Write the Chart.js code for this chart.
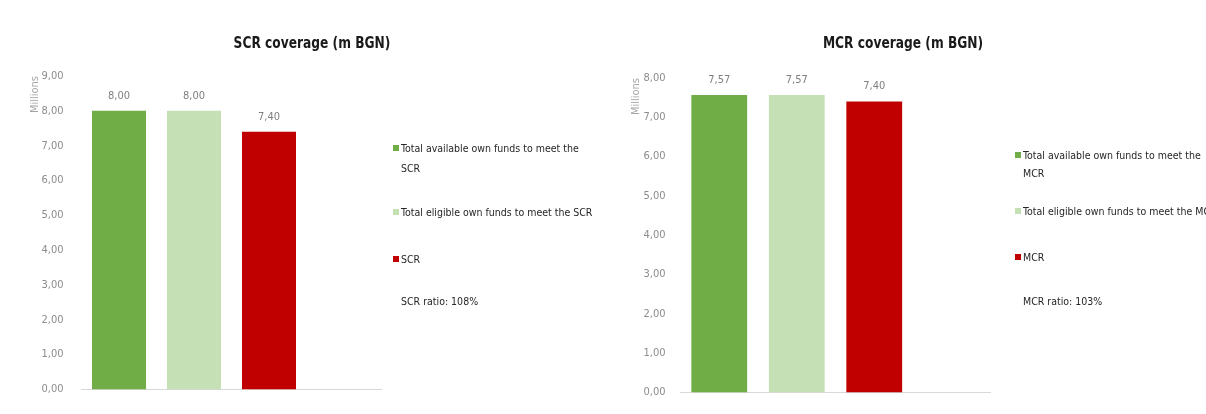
<!DOCTYPE html>
<html>
<head>
<meta charset="utf-8">
<script src="https://cdn.jsdelivr.net/npm/chart.js@4.4.1/dist/chart.umd.min.js"></script>
<style>
  html, body { margin: 0; padding: 0; background: #fff; }
  body {
    width: 1206px; height: 414px; position: relative; overflow: hidden;
    font-family: "Liberation Sans Narrow", "Arial Narrow", "DejaVu Sans Condensed", sans-serif;
  }
  .panel { position: absolute; top: 0; width: 603px; height: 414px; }
  .panel canvas { position: absolute; left: 0; top: 0; }
  .title {
    position: absolute; top: 33px; width: 300px; text-align: center;
    font-size: 16px; font-weight: bold; color: #1a1a1a; line-height: 20px;
    transform: scaleX(0.85); white-space: nowrap;
  }
  .legend { position: absolute; font-size: 10.5px; color: #262626; }
  .legend .item { display: flex; align-items: flex-start; }
  .legend .swatch { width: 6px; height: 6px; flex: none; margin-right: 2px; }
  .legend .note { padding-left: 8px; white-space: nowrap; }
</style>
</head>
<body>
<div class="panel" id="scrPanel" style="left:0">
  <canvas id="scrChart" width="603" height="414"></canvas>
  <div class="title" id="scrTitle" style="left:162px"></div>
  <div class="legend" id="scrLegend" style="left:393px; top:138px"></div>
</div>
<div class="panel" id="mcrPanel" style="left:603px">
  <canvas id="mcrChart" width="603" height="414"></canvas>
  <div class="title" id="mcrTitle" style="left:150px"></div>
  <div class="legend" id="mcrLegend" style="left:412px; top:146px"></div>
</div>
<script>
// SCR chart data
const scrTitle = "SCR coverage (m BGN)";
const scrCategories = [
  "Total available own funds to meet the SCR",
  "Total eligible own funds to meet the SCR",
  "SCR",
];
const scrValues = [8.0, 8.0, 7.4];
const scrAxisMax = 9;
const scrRatioNote = "SCR ratio: 108%";

// MCR chart data
const mcrTitle = "MCR coverage (m BGN)";
const mcrCategories = [
  "Total available own funds to meet the MCR",
  "Total eligible own funds to meet the MCR",
  "MCR",
];
const mcrValues = [7.57, 7.57, 7.4];
const mcrAxisMax = 8;
const mcrRatioNote = "MCR ratio: 103%";

const barColors = ["#70AD47", "#C5E0B4", "#C00000"];
const fontFamily = '"Liberation Sans Narrow", "Arial Narrow", "DejaVu Sans Condensed", sans-serif';

const fmt = (v) => Number(v).toFixed(2).replace(".", ",");

// draws the value above each bar
const valueLabels = {
  id: "valueLabels",
  afterDatasetsDraw(chart) {
    const ctx = chart.ctx;
    const values = chart.data.datasets[0].data;
    ctx.save();
    ctx.font = "11px " + fontFamily;
    ctx.fillStyle = "#7f7f7f";
    ctx.textAlign = "center";
    ctx.textBaseline = "middle";
    chart.getDatasetMeta(0).data.forEach((bar, i) => {
      if (values[i] == null) return;
      ctx.fillText(fmt(values[i]), bar.x, bar.y - 15);
    });
    ctx.restore();
  },
};

function makeCoverageChart(canvas, categories, values, axisMax, box) {
  return new Chart(canvas, {
    type: "bar",
    data: {
      // trailing empty slot keeps the blank space Excel leaves on the right
      labels: [...categories, ""],
      datasets: [
        {
          data: values,
          backgroundColor: barColors,
          barPercentage: 0.72,
          categoryPercentage: 1,
        },
      ],
    },
    options: {
      responsive: false,
      animation: false,
      layout: { padding: { left: box.left, right: box.right, top: box.top, bottom: 11 } },
      plugins: {
        legend: { display: false },
        tooltip: { enabled: false },
      },
      scales: {
        x: {
          grid: { display: false },
          border: { display: true, color: "#d9d9d9" },
          ticks: { display: false },
          afterFit(scale) { scale.height = 0; },
        },
        y: {
          min: 0,
          max: axisMax,
          grid: { display: false, drawTicks: false },
          border: { display: false },
          ticks: {
            stepSize: 1,
            padding: box.tickPad,
            color: "#8c8c8c",
            font: { size: 11, family: fontFamily },
            callback: (v) => fmt(v),
          },
          title: {
            display: true,
            text: "Millions",
            align: "end",
            color: "#a6a6a6",
            font: { size: 11, family: fontFamily },
            padding: { top: box.titlePad, bottom: 0 },
          },
          afterFit(scale) { scale.width = 60; },
        },
      },
    },
    plugins: [valueLabels],
  });
}

function buildLegend(el, categories, note, lineHeight, gaps) {
  const spans = categories.map((name, i) => {
    const item = document.createElement("div");
    item.className = "item";
    item.style.lineHeight = lineHeight + "px";
    item.style.marginBottom = gaps[i] + "px";
    const sw = document.createElement("span");
    sw.className = "swatch";
    sw.style.background = barColors[i];
    sw.style.marginTop = (lineHeight / 2 - 3) + "px";
    const txt = document.createElement("span");
    txt.textContent = name;
    txt.style.whiteSpace = "nowrap";
    item.appendChild(sw);
    item.appendChild(txt);
    el.appendChild(item);
    return txt;
  });
  const n = document.createElement("div");
  n.className = "note";
  n.style.lineHeight = lineHeight + "px";
  n.textContent = note;
  el.appendChild(n);
  // first entry wraps at the width of the second one, like the original
  const w = spans[1].offsetWidth;
  spans[0].style.whiteSpace = "normal";
  spans[0].style.maxWidth = (w - 4) + "px";
}

document.getElementById("scrTitle").textContent = scrTitle;
document.getElementById("mcrTitle").textContent = mcrTitle;

makeCoverageChart(document.getElementById("scrChart"),
  scrCategories, scrValues, scrAxisMax,
  { left: 21.5, right: 221.5, top: 76, tickPad: 18, titlePad: 7 });
makeCoverageChart(document.getElementById("mcrChart"),
  mcrCategories, mcrValues, mcrAxisMax,
  { left: 17.5, right: 215.5, top: 78, tickPad: 15, titlePad: 9 });

buildLegend(document.getElementById("scrLegend"), scrCategories, scrRatioNote, 20, [24, 27, 22]);
buildLegend(document.getElementById("mcrLegend"), mcrCategories, mcrRatioNote, 18, [20, 28, 26]);
</script>
</body>
</html>
